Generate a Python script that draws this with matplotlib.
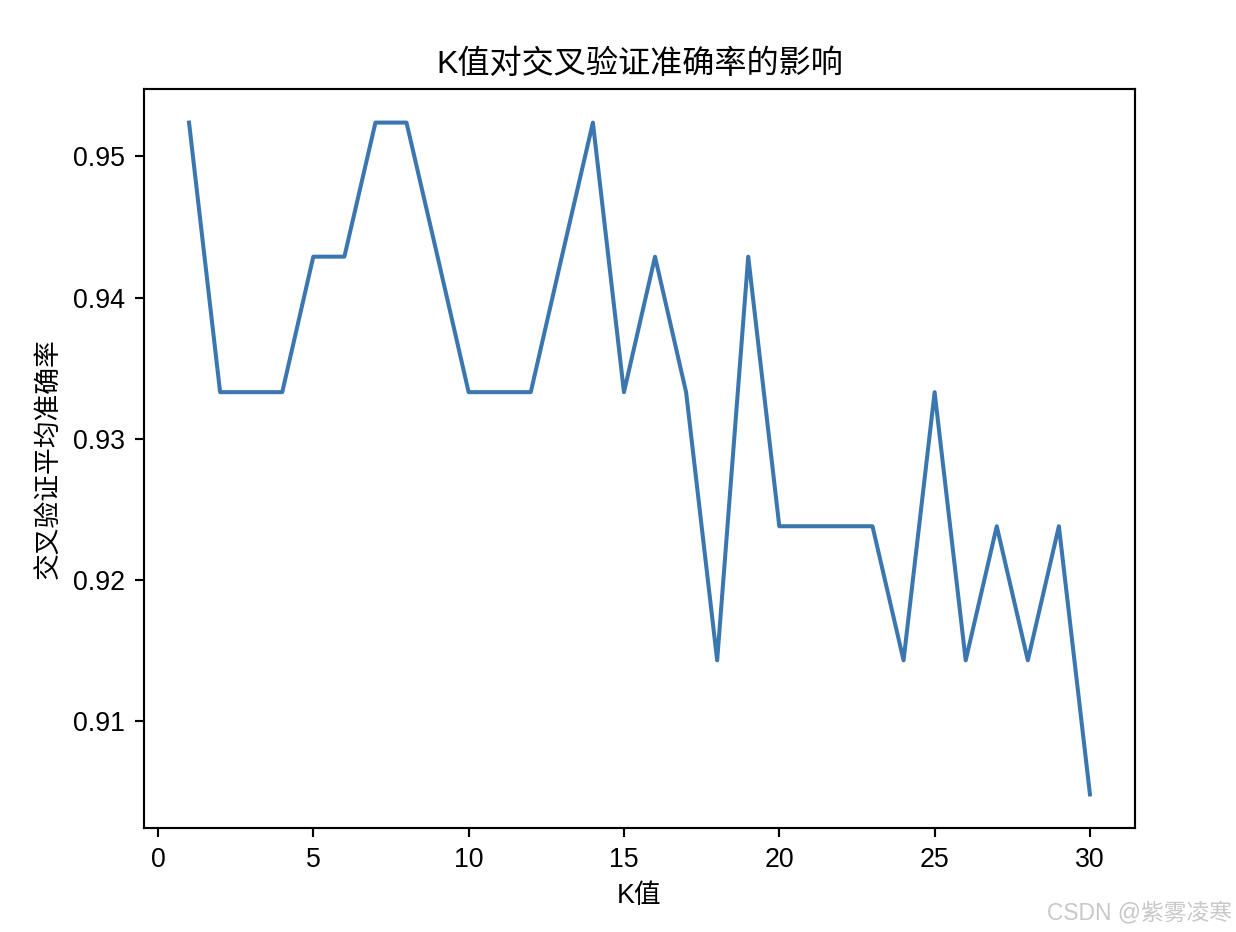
import numpy as np
import matplotlib
matplotlib.use("Agg")
import matplotlib.pyplot as plt

plt.rcParams['font.family'] = ['Liberation Sans', 'Noto Sans CJK SC', 'DejaVu Sans']
plt.rcParams['axes.unicode_minus'] = False

# K values and mean cross-validation accuracy
k_range = list(range(1, 31))
k_scores = [0.9524, 0.9333, 0.9333, 0.9333, 0.9429, 0.9429, 0.9524, 0.9524,
            0.9429, 0.9333, 0.9333, 0.9333, 0.9429, 0.9524, 0.9333, 0.9429,
            0.9333, 0.9143, 0.9429, 0.9238, 0.9238, 0.9238, 0.9238, 0.9143,
            0.9333, 0.9143, 0.9238, 0.9143, 0.9238, 0.9048]

dpi = 193
fig = plt.figure(figsize=(1236 / dpi, 932 / dpi), dpi=dpi)
ax = fig.add_axes([144 / 1236, 1 - 828 / 932, (1135 - 144) / 1236, (828 - 89) / 932])

ax.plot(k_range, k_scores, color='#3a76b0', linewidth=1.5)
ax.set_xticks([0, 5, 10, 15, 20, 25, 30])
ax.set_yticks([0.91, 0.92, 0.93, 0.94, 0.95])
ax.set_xlabel('K值')
ax.set_ylabel('交叉验证平均准确率')
ax.set_title('K值对交叉验证准确率的影响')

fig.text(0.997, 0.008, 'CSDN @紫雾凌寒', ha='right', va='bottom',
         color='#c8c8c8', fontsize=8.5)

fig.savefig('out.png', dpi=dpi)
